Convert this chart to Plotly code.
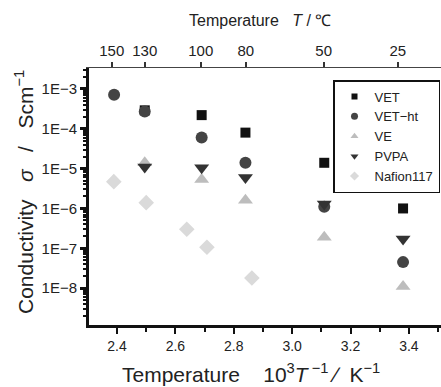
import plotly.graph_objects as go

# x positions (10^3/T)
x_150 = 2.39
x_130 = 2.495
x_100 = 2.69
x_80 = 2.84
x_50 = 3.11
x_25 = 3.38

vet_x = [x_130, x_100, x_80, x_50, x_25]
vet_y = [2.9e-4, 2.2e-4, 8.0e-5, 1.4e-5, 1.0e-6]

vetht_x = [x_150, x_130, x_100, x_80, x_50, x_25]
vetht_y = [7.1e-4, 2.7e-4, 6.0e-5, 1.4e-5, 1.1e-6, 4.5e-8]

ve_x = [x_130, x_100, x_80, x_50, x_25]
ve_y = [1.4e-5, 5.3e-6, 1.6e-6, 1.9e-7, 1.1e-8]

pvpa_x = [x_130, x_100, x_80, x_50, x_25]
pvpa_y = [1.1e-5, 1.05e-5, 6.0e-6, 1.3e-6, 1.7e-7]

nafion_x = [2.389, 2.50, 2.639, 2.708, 2.862]
nafion_y = [4.7e-6, 1.4e-6, 3.0e-7, 1.06e-7, 1.8e-8]

y_tickvals = [1e-3, 1e-4, 1e-5, 1e-6, 1e-7, 1e-8]
y_ticktext = ["1E\u22123", "1E\u22124", "1E\u22125", "1E\u22126", "1E\u22127", "1E\u22128"]

x_tickvals = [2.4, 2.6, 2.8, 3.0, 3.2, 3.4]
x_ticktext = ["2.4", "2.6", "2.8", "3.0", "3.2", "3.4"]

top_tickvals = [2.382, 2.495, 2.687, 2.841, 3.108, 3.362]
top_ticktext = ["150", "130", "100", "80", "50", "25"]

FONT = "Liberation Sans, Arial, sans-serif"
NB = "\u00a0"

fig = go.Figure()
series = [
    ("VET", vet_x, vet_y, "square", "#111111", 10, 6),
    ("VET\u2212ht", vetht_x, vetht_y, "circle", "#444444", 12, 7),
    ("VE", ve_x, ve_y, "triangle-up", "#bdbdbd", 13, 7),
    ("PVPA", pvpa_x, pvpa_y, "triangle-down", "#333333", 13, 7),
    ("Nafion117", nafion_x, nafion_y, "diamond", "#dadada", 12, 7),
]
for name, xs, ys, sym, col, sz, lsz in series:
    fig.add_trace(go.Scatter(
        x=xs, y=ys, mode="markers", name=name, showlegend=False,
        marker=dict(symbol=sym, color=col, size=sz, line=dict(width=0)),
    ))
for name, xs, ys, sym, col, sz, lsz in series:
    fig.add_trace(go.Scatter(
        x=[None], y=[None], mode="markers", name=name, showlegend=True,
        marker=dict(symbol=sym, color=col, size=lsz, line=dict(width=0)),
    ))

# dummy trace on top axis
fig.add_trace(go.Scatter(x=[x_25], y=[1e-6], xaxis="x2", mode="markers",
                         marker=dict(opacity=0), showlegend=False, hoverinfo="skip"))

xr = [2.304, 3.51]
fig.update_layout(
    width=441, height=387,
    margin=dict(l=89, r=0, t=68, b=62, autoexpand=False),
    paper_bgcolor="white", plot_bgcolor="white",
    font=dict(family=FONT, color="#222222", size=13),
    showlegend=True,
    legend=dict(
        x=(333 - 89) / 352, y=(325 - 80) / 257, xanchor="left", yanchor="top",
        bordercolor="#111111", borderwidth=1.5, bgcolor="white",
        font=dict(size=13, family=FONT), itemsizing="trace",
        itemwidth=30, tracegroupgap=0,
        entrywidth=120, entrywidthmode="pixels",
    ),
    xaxis=dict(
        range=xr, showgrid=False, zeroline=False, automargin=False,
        showline=True, linecolor="#111111", linewidth=3,
        tickvals=x_tickvals, ticktext=x_ticktext,
        ticks="outside", ticklen=6, tickwidth=2, tickcolor="#111111",
        tickfont=dict(size=14),
        minor=dict(tickvals=[2.3, 2.5, 2.7, 2.9, 3.1, 3.3, 3.5], ticks="outside",
                   ticklen=4, tickwidth=1.5, tickcolor="#111111"),
    ),
    xaxis2=dict(
        range=xr, overlaying="x", side="top", showgrid=False, zeroline=False,
        automargin=False,
        showline=True, linecolor="#444444", linewidth=1,
        tickvals=top_tickvals, ticktext=top_ticktext,
        ticks="outside", ticklen=5, tickwidth=1.5, tickcolor="#333333",
        tickfont=dict(size=15),
    ),
    yaxis=dict(
        type="log", range=[-8.925, -2.475], showgrid=False, zeroline=False,
        automargin=False,
        showline=True, linecolor="#111111", linewidth=3,
        tickvals=y_tickvals, ticktext=y_ticktext,
        ticks="outside", ticklen=6, tickwidth=2.5, tickcolor="#111111",
        tickfont=dict(size=15),
        minor=dict(ticks="outside", ticklen=3, tickwidth=1.5, tickcolor="#111111", dtick="D1"),
    ),
)

fig.add_annotation(
    text="Temperature" + NB * 4 + "10<sup>3</sup><i>T</i><sup> \u22121</sup>" + NB + "\u2215" + NB * 2 + "K<sup>\u22121</sup>",
    xref="paper", yref="paper", x=(251 - 89) / 352, y=-(373 - 325) / 257,
    xanchor="center", yanchor="middle", showarrow=False,
    font=dict(size=21, family=FONT, color="#222222"),
)
fig.add_annotation(
    text="Temperature" + NB * 3 + "<i>T</i> / \u2103",
    xref="paper", yref="paper", x=(260 - 89) / 352, y=1 + (68 - 21) / 257,
    xanchor="center", yanchor="middle", showarrow=False,
    font=dict(size=16, family=FONT, color="#222222"),
)
fig.add_annotation(
    text="Conductivity" + NB * 3 + "<i>\u03c3</i>" + NB * 3 + "/" + NB * 3 + "Scm<sup>\u22121</sup>",
    xref="paper", yref="paper", x=-(89 - 24) / 352, y=(325 - 192) / 257,
    xanchor="center", yanchor="middle", showarrow=False, textangle=-90,
    font=dict(size=21, family=FONT, color="#222222"),
)

fig.write_html("out.html")
